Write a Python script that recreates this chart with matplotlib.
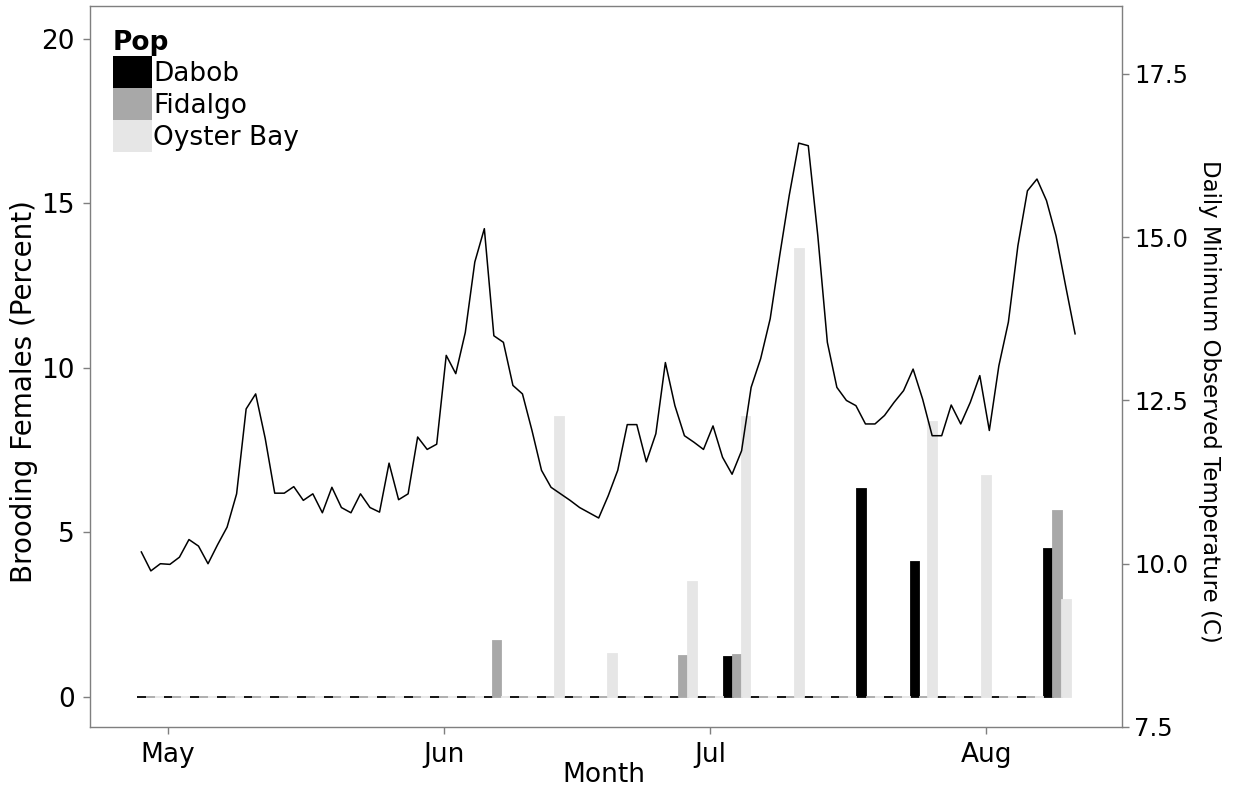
import numpy as np
import pandas as pd
import matplotlib
matplotlib.use('Agg')
import matplotlib.pyplot as plt
import matplotlib.dates as mdates
from matplotlib.patches import Patch

# brooding samples, every third day
sample_start = '2013-04-29'
n_samples = 35
pops = ['Dabob', 'Fidalgo', 'Oyster Bay']
pop_colors = ['#000000', '#A8A8A8', '#E6E6E6']

dabob = [0, 0, 0, 0, 0, 0, 0, 0, 0, 0, 0, 0, 0, 0, 0, 0, 0, 0, 0, 0,
         0, 0, 1.2, 0, 0, 0, 0, 6.3, 0, 4.1, 0, 0, 0, 0, 4.5]
fidalgo = [0, 0, 0, 0, 0, 0, 0, 0, 0, 0, 0, 0, 0, 1.7, 0, 0, 0, 0, 0, 0,
           1.25, 0, 1.28, 0, 0, 0, 0, 0, 0, 0, 0, 0, 0, 0, 5.65]
oyster_bay = [0, 0, 0, 0, 0, 0, 0, 0, 0, 0, 0, 0, 0, 0, 0, 8.5, 0, 1.3, 0, 0,
              3.5, 0, 8.5, 0, 13.6, 0, 0, 0, 0, 8.35, 0, 6.7, 0, 0, 2.95]

# daily minimum temperature record
temp_start = '2013-04-28'
temp_end = '2013-08-11'
temp_min = [10.18, 9.89, 10.0, 9.99, 10.10, 10.37, 10.27, 10.0, 10.29, 10.56,
            11.07, 12.37, 12.60, 11.92, 11.08, 11.08, 11.18, 10.97, 11.07, 10.78,
            11.17, 10.86, 10.78, 11.07, 10.86, 10.79, 11.54, 10.98, 11.07, 11.94,
            11.75, 11.83, 13.19, 12.91, 13.54, 14.62, 15.13, 13.49, 13.39, 12.73,
            12.60, 12.04, 11.43, 11.17, 11.07, 10.97, 10.86, 10.78, 10.70, 11.04,
            11.43, 12.13, 12.13, 11.56, 11.99, 13.08, 12.42, 11.96, 11.86, 11.75,
            12.11, 11.63, 11.37, 11.73, 12.70, 13.14, 13.75, 14.72, 15.64, 16.44,
            16.40, 15.02, 13.39, 12.70, 12.50, 12.42, 12.14, 12.14, 12.27, 12.47,
            12.65, 12.98, 12.52, 11.96, 11.96, 12.43, 12.14, 12.47, 12.88, 12.04,
            13.03, 13.70, 14.87, 15.71, 15.89, 15.56, 15.02, 14.26, 13.52]

sample_dates = pd.date_range(sample_start, periods=n_samples, freq='3D')
temp_dates = pd.date_range(temp_start, temp_end, periods=len(temp_min))

xs = mdates.date2num(sample_dates.to_pydatetime())
xt = mdates.date2num(temp_dates.to_pydatetime())

fig = plt.figure(figsize=(12.41, 7.96), dpi=100)
ax = fig.add_axes([0.0725, 0.0867, 0.8316, 0.9058])

bar_w = 1.0
for j, (vals, col) in enumerate(zip([dabob, fidalgo, oyster_bay], pop_colors)):
    ax.bar(xs + (j - 1) * bar_w, vals, width=bar_w, color=col,
           edgecolor=col, linewidth=1.3, zorder=2)

ax2 = ax.twinx()
ax2.plot(xt, temp_min, color='black', lw=1.1, zorder=3)

lo = min(xs[0] - 1.5 * bar_w, xt[0])
hi = max(xs[-1] + 1.5 * bar_w, xt[-1])
pad = 0.05 * (hi - lo)
ax.set_xlim(lo - pad, hi + pad)
ax.set_ylim(-0.92, 21.0)
ax2.set_ylim(7.5, 18.54)

ax.xaxis.set_major_locator(mdates.MonthLocator())
ax.xaxis.set_major_formatter(mdates.DateFormatter('%b'))
ax.set_yticks([0, 5, 10, 15, 20])
ax2.set_yticks([7.5, 10.0, 12.5, 15.0, 17.5])
ax2.yaxis.set_major_formatter(matplotlib.ticker.FormatStrFormatter('%.1f'))

edge = '#7F7F7F'
for s in ax.spines.values():
    s.set_color(edge)
    s.set_linewidth(1.0)
for s in ax2.spines.values():
    s.set_visible(False)

ax.tick_params(axis='both', length=5, width=1, color=edge, labelsize=19,
               labelcolor='black', pad=6)
ax2.tick_params(axis='y', length=5, width=1, color=edge, labelsize=17.5,
                labelcolor='black', pad=4)

fig.text(0.0193, 0.5075, 'Brooding Females (Percent)', rotation=90,
         ha='center', va='center', fontsize=20)
fig.text(0.9750, 0.4962, 'Daily Minimum Observed Temperature (C)', rotation=270,
         ha='center', va='center', fontsize=16.5)
fig.text(0.4867, 0.0264, 'Month', ha='center', va='center', fontsize=19)

handles = [Patch(facecolor=c, edgecolor='none') for c in pop_colors]
leg = ax.legend(handles, pops, title='Pop', loc='upper left',
                bbox_to_anchor=(0.022, 0.966), frameon=False, fontsize=19,
                title_fontproperties={'weight': 'bold', 'size': 19},
                handlelength=1.48, handleheight=1.48, labelspacing=0,
                handletextpad=0.06, borderpad=0, borderaxespad=0,
                alignment='left')

fig.savefig('out.png', dpi=100)
